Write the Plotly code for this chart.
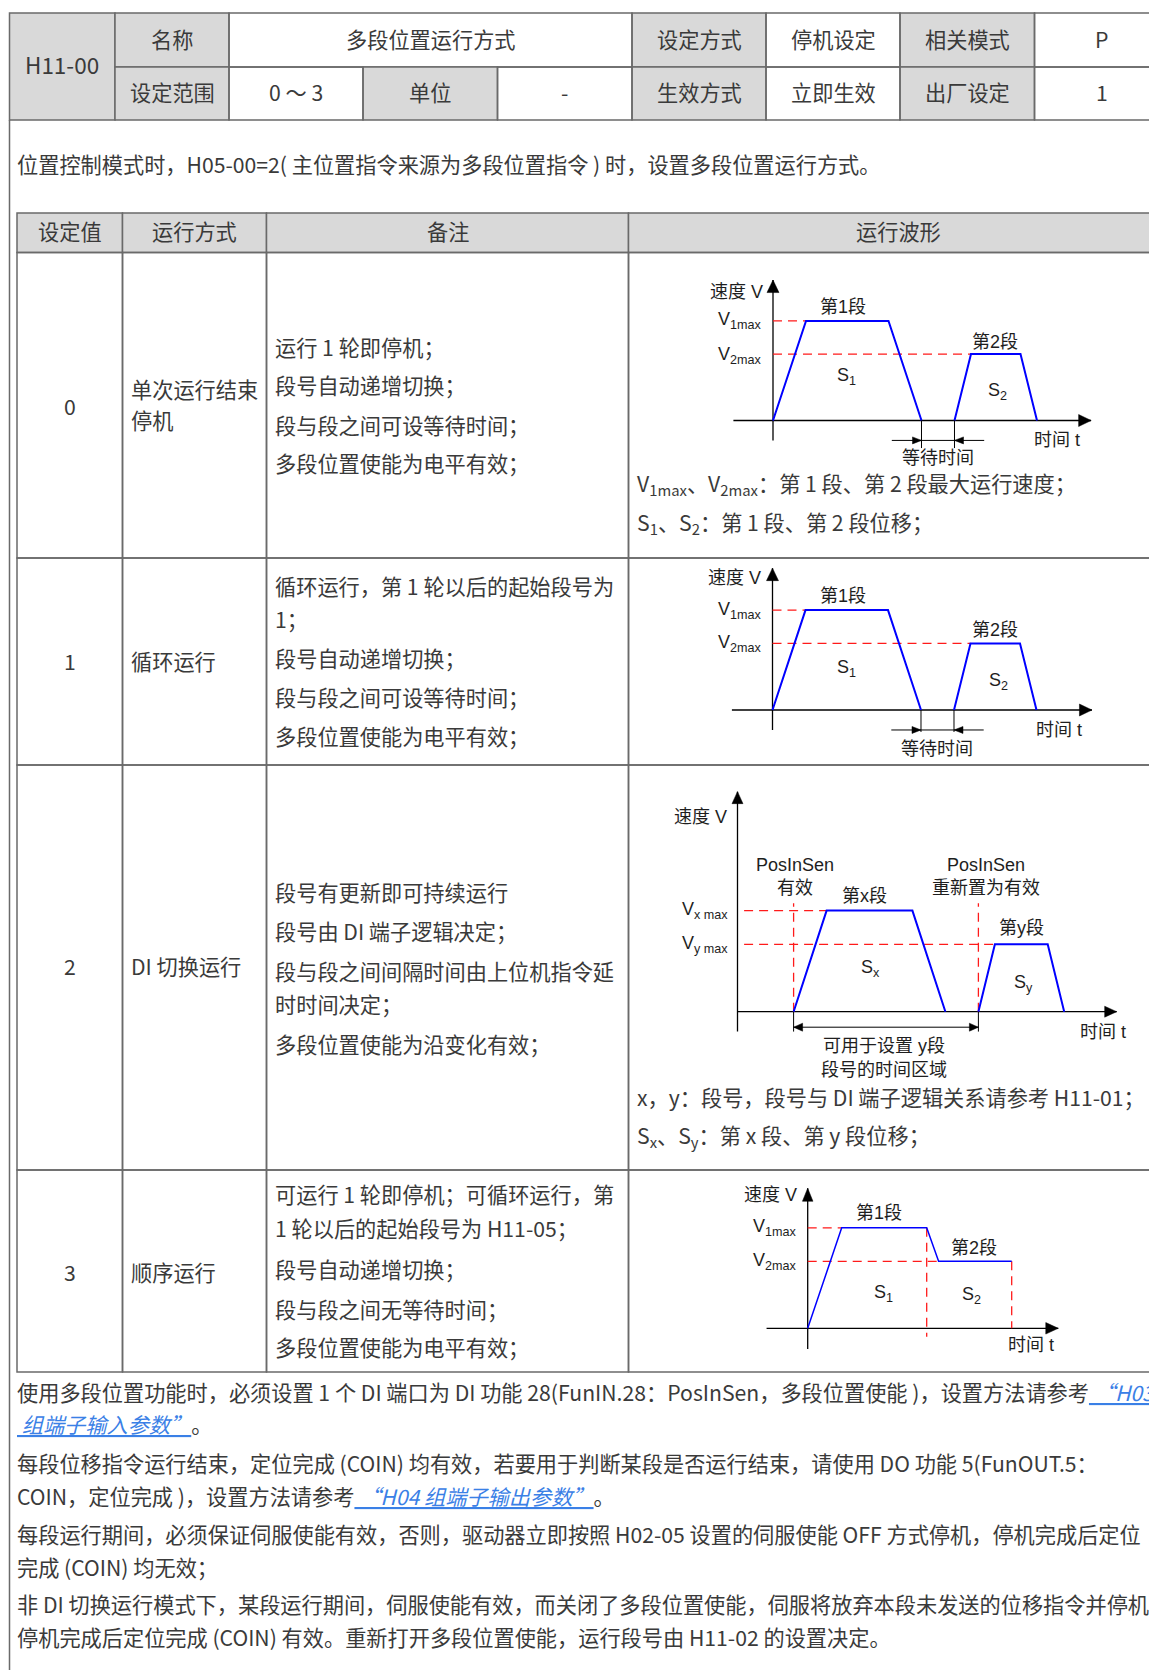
import plotly.graph_objects as go

# ======================= CONTENT (data) =======================
PARAM_CODE = "H11-00"
ROW1_LABELS = ["名称", "设定方式", "相关模式"]
ROW1_VALUES = ["多段位置运行方式", "停机设定", "P"]
ROW2_LABELS = ["设定范围", "单位", "生效方式", "出厂设定"]
ROW2_VALUES = ["0 ～ 3", "-", "立即生效", "1"]

INTRO = "位置控制模式时，H05-00=2( 主位置指令来源为多段位置指令 ) 时，设置多段位置运行方式。"

TABLE_HEADERS = ["设定值", "运行方式", "备注", "运行波形"]
SET_VALUES = ["0", "1", "2", "3"]
RUN_MODES = [["单次运行结束", "停机"], ["循环运行"], ["DI 切换运行"], ["顺序运行"]]
REMARKS = [
    ["运行 1 轮即停机；", "段号自动递增切换；", "段与段之间可设等待时间；", "多段位置使能为电平有效；"],
    ["循环运行，第 1 轮以后的起始段号为", "1；", "段号自动递增切换；", "段与段之间可设等待时间；",
     "多段位置使能为电平有效；"],
    ["段号有更新即可持续运行", "段号由 DI 端子逻辑决定；", "段与段之间间隔时间由上位机指令延", "时时间决定；",
     "多段位置使能为沿变化有效；"],
    ["可运行 1 轮即停机；可循环运行，第", "1 轮以后的起始段号为 H11-05；", "段号自动递增切换；",
     "段与段之间无等待时间；", "多段位置使能为电平有效；"],
]
WAVE_NOTES = [
    ["V<sub>1max</sub>、V<sub>2max</sub>：第 1 段、第 2 段最大运行速度；", "S<sub>1</sub>、S<sub>2</sub>：第 1 段、第 2 段位移；"],
    [],
    ["x，y：段号，段号与 DI 端子逻辑关系请参考 H11-01；", "S<sub>x</sub>、S<sub>y</sub>：第 x 段、第 y 段位移；"],
    [],
]
LINK1 = "“H03 组端子输入参数”"
LINK2 = "“H04 组端子输出参数”"
NOTES = [
    "使用多段位置功能时，必须设置 1 个 DI 端口为 DI 功能 28(FunIN.28：PosInSen，多段位置使能 )，设置方法请参考{L1a}",
    "{L1b}。",
    "每段位移指令运行结束，定位完成 (COIN) 均有效，若要用于判断某段是否运行结束，请使用 DO 功能 5(FunOUT.5：",
    "COIN，定位完成 )，设置方法请参考{L2}。",
    "每段运行期间，必须保证伺服使能有效，否则，驱动器立即按照 H02-05 设置的伺服使能 OFF 方式停机，停机完成后定位",
    "完成 (COIN) 均无效；",
    "非 DI 切换运行模式下，某段运行期间，伺服使能有效，而关闭了多段位置使能，伺服将放弃本段未发送的位移指令并停机，",
    "停机完成后定位完成 (COIN) 有效。重新打开多段位置使能，运行段号由 H11-02 的设置决定。",
]

# waveform values (time t, speed v)
A_SEG1_T = [0, 10, 35, 45]
A_SEG1_V = [0, 3, 3, 0]
A_SEG2_T = [55, 60, 75, 80]
A_SEG2_V = [0, 2, 2, 0]
A_LABELS = ["速度 V", "V<sub>1max</sub>", "V<sub>2max</sub>", "第1段", "第2段", "S<sub>1</sub>", "S<sub>2</sub>",
            "时间 t", "等待时间"]

C_SEGX_T = [17, 27, 53, 63]
C_SEGX_V = [0, 3, 3, 0]
C_SEGY_T = [73, 78, 94, 99]
C_SEGY_V = [0, 2, 2, 0]
C_LABELS = ["速度 V", "PosInSen", "有效", "PosInSen", "重新置为有效", "第x段", "V<sub>x max</sub>",
            "V<sub>y max</sub>", "第y段", "S<sub>x</sub>", "S<sub>y</sub>", "时间 t", "可用于设置 y段", "段号的时间区域"]

D_T = [0, 10, 35, 38.5, 60]
D_V = [0, 3, 3, 2, 2]
D_LABELS = ["速度 V", "V<sub>1max</sub>", "V<sub>2max</sub>", "第1段", "第2段", "S<sub>1</sub>", "S<sub>2</sub>", "时间 t"]

# ======================= LAYOUT / STYLE =======================
W, H = 1157, 1670
OFF = 8  # page body margin of the html document
FONT = "Noto Sans CJK SC, Noto Sans, sans-serif"
DFONT = "Liberation Sans, Arial, Noto Sans CJK SC, sans-serif"
TXT = "#3a3a3a"
DTXT = "#1e1e1e"
BORDER = "#6a6a6a"
GREY = "#d9d9d9"
BLUE = "#0000ff"
RED = "#ff1a1a"
LINKC = "#3a80e6"
FS = 21.2
DFS = 18

HDR_X = [9.5, 115, 229, 363, 497.5, 632, 766, 900, 1034.5, 1169]
HDR_Y = [13, 67, 120]
R1_LABEL_COLS = [1, 5, 7]
R1_VALUE_SPANS = [(2, 5), (6, 7), (8, 9)]
R2_LABEL_COLS = [1, 3, 5, 7]
R2_VALUE_COLS = [2, 4, 6, 8]

OUTER_X = 9.5
INTRO_POS = (17, 165)
TBL_X = [17, 122.5, 266.5, 628.5, 1168]
TBL_Y = [213, 252.5, 558, 765, 1170, 1372]
MODE_X = 131
REMARK_X = 275
MODE_Y = [[390, 422], [662.5], [967.5], [1273]]
REMARK_Y = [[348, 386.5, 426, 465], [587, 620, 659.5, 698, 737], [893, 932.5, 972.3, 1005, 1045],
            [1195, 1229, 1270.5, 1310, 1348.5]]
WAVE_NOTE_X = 637
WAVE_NOTE_Y = [[486, 524.5], [], [1098, 1137], []]
NOTE_X = 17
NOTE_Y = [1393.5, 1425.5, 1464, 1497, 1535, 1568, 1605.5, 1638.5]

fig = go.Figure()
shapes, annos = [], []


def px(x):
    return (x - OFF) / W


def py(y):
    return 1 - (y - OFF) / H


def rect(x0, y0, x1, y1, fill=None, lw=1.5):
    shapes.append(dict(type="rect", xref="paper", yref="paper", x0=px(x0), x1=px(x1), y0=py(y1), y1=py(y0),
                       line=dict(color=BORDER, width=lw), fillcolor=fill if fill else "rgba(0,0,0,0)",
                       layer="below"))


def vline(x, y0, y1, lw=1.5):
    shapes.append(dict(type="line", xref="paper", yref="paper", x0=px(x), x1=px(x), y0=py(y0), y1=py(y1),
                       line=dict(color=BORDER, width=lw), layer="below"))


def text(t, x, y, anchor="center", size=FS, color=TXT, family=FONT):
    # compensate for the annotation box padding so glyph edges land where measured
    if anchor == "left":
        x -= 2.5
    elif anchor == "right":
        x += 2.5
    if family == FONT:
        y -= 2
    annos.append(dict(text=t, x=px(x), y=py(y), xref="paper", yref="paper", showarrow=False, xanchor=anchor,
                      yanchor="middle", font=dict(family=family, size=size, color=color)))


# ---------- header parameter table ----------
rect(HDR_X[0], HDR_Y[0], HDR_X[1], HDR_Y[2], GREY)
text(PARAM_CODE, (HDR_X[0] + HDR_X[1]) / 2, (HDR_Y[0] + HDR_Y[2]) / 2, size=22.5)
for lab, c in zip(ROW1_LABELS, R1_LABEL_COLS):
    rect(HDR_X[c], HDR_Y[0], HDR_X[c + 1], HDR_Y[1], GREY)
    text(lab, (HDR_X[c] + HDR_X[c + 1]) / 2, (HDR_Y[0] + HDR_Y[1]) / 2)
for val, (c0, c1) in zip(ROW1_VALUES, R1_VALUE_SPANS):
    rect(HDR_X[c0], HDR_Y[0], HDR_X[c1], HDR_Y[1])
    text(val, (HDR_X[c0] + HDR_X[c1]) / 2, (HDR_Y[0] + HDR_Y[1]) / 2)
for lab, c in zip(ROW2_LABELS, R2_LABEL_COLS):
    rect(HDR_X[c], HDR_Y[1], HDR_X[c + 1], HDR_Y[2], GREY)
    text(lab, (HDR_X[c] + HDR_X[c + 1]) / 2, (HDR_Y[1] + HDR_Y[2]) / 2)
for val, c in zip(ROW2_VALUES, R2_VALUE_COLS):
    rect(HDR_X[c], HDR_Y[1], HDR_X[c + 1], HDR_Y[2])
    text(val, (HDR_X[c] + HDR_X[c + 1]) / 2, (HDR_Y[1] + HDR_Y[2]) / 2)

# outer frame left edge
vline(OUTER_X, HDR_Y[2], H + 20)
text(INTRO, INTRO_POS[0], INTRO_POS[1], anchor="left")

# ---------- main table ----------
for i, hd in enumerate(TABLE_HEADERS):
    rect(TBL_X[i], TBL_Y[0], TBL_X[i + 1], TBL_Y[1], GREY)
    text(hd, (TBL_X[i] + TBL_X[i + 1]) / 2, (TBL_Y[0] + TBL_Y[1]) / 2)
for r in range(4):
    y0, y1 = TBL_Y[r + 1], TBL_Y[r + 2]
    for i in range(4):
        rect(TBL_X[i], y0, TBL_X[i + 1], y1)
    text(SET_VALUES[r], (TBL_X[0] + TBL_X[1]) / 2, MODE_Y[r][0] if len(MODE_Y[r]) == 1 else (y0 + y1) / 2 + 2)
    for line_txt, yy in zip(RUN_MODES[r], MODE_Y[r]):
        text(line_txt, MODE_X, yy, anchor="left")
    for line_txt, yy in zip(REMARKS[r], REMARK_Y[r]):
        text(line_txt, REMARK_X, yy, anchor="left")
    for line_txt, yy in zip(WAVE_NOTES[r], WAVE_NOTE_Y[r]):
        text(line_txt, WAVE_NOTE_X, yy, anchor="left")


# ---------- notes under table ----------
def link(s):
    return f"<span style='color:{LINKC}'><i><u>{s}</u></i></span>"


fills = {"L1a": link(" " + LINK1[:4]), "L1b": link(LINK1[4:]), "L2": link(" " + LINK2)}
for line_txt, yy in zip(NOTES, NOTE_Y):
    text(line_txt.format(**fills), NOTE_X, yy, anchor="left")

# ---------- waveform diagrams ----------
layout_axes = {}
traces = []


def make_axes(k, ox, oy, sx, sy, trange, vrange):
    xd = [px(ox + trange[0] * sx), px(ox + trange[1] * sx)]
    yd = [py(oy - vrange[0] * sy), py(oy - vrange[1] * sy)]
    layout_axes[f"xaxis{k}"] = dict(domain=xd, range=list(trange), anchor=f"y{k}", visible=False, fixedrange=True)
    layout_axes[f"yaxis{k}"] = dict(domain=yd, range=list(vrange), anchor=f"x{k}", visible=False, fixedrange=True)
    return (f"x{k}", f"y{k}", sx, sy)


def line(ax, t, v, color="black", width=1.3, dash=None):
    traces.append(go.Scatter(x=t, y=v, xaxis=ax[0], yaxis=ax[1], mode="lines", hoverinfo="skip",
                             line=dict(color=color, width=width, dash=dash)))


def head(ax, t, v, direction, length=12.5, width=12.0):
    """filled arrow head whose tip sits on data point (t, v); size in pixels"""
    sx, sy = ax[2], ax[3]
    if direction in ("r", "l"):
        s = 1 if direction == "r" else -1
        bt = t - s * length / sx
        xs, ys = [t, bt, bt, t], [v, v + width / 2 / sy, v - width / 2 / sy, v]
    else:
        s = 1 if direction == "u" else -1
        bv = v - s * length / sy
        xs, ys = [t, t - width / 2 / sx, t + width / 2 / sx, t], [v, bv, bv, v]
    traces.append(go.Scatter(x=xs, y=ys, xaxis=ax[0], yaxis=ax[1], mode="lines", fill="toself",
                             fillcolor="black", line=dict(color="black", width=0.5), hoverinfo="skip"))


def dlabel(t, x, y, anchor="center"):
    text(t, x, y, anchor=anchor, size=DFS, color=DTXT, family=DFONT)


DASH = "9px,6px"

# diagrams for rows 0 and 1 (same waveform)
A_SPECS = [
    dict(k=2, ox=773, oy=420.5, sx=3.3, sy=33.2, x_ax=[-12, 96.4], y_ax=[-0.6, 4.23], wait_v=-0.6, tick_v=-0.83,
         lab=[(762, 292, "right"), (761, 321, "right"), (761, 355, "right"), (842.6, 306.5, "center"),
              (995, 341.5, "center"), (846, 376.5, "center"), (997, 391.5, "center"), (1034, 440, "left"),
              (937.6, 458, "center")]),
    dict(k=3, ox=772.5, oy=710, sx=3.3, sy=33.3, x_ax=[-12.3, 96.8], y_ax=[-0.6, 4.26], wait_v=-0.6, tick_v=-0.66,
         lab=[(760, 578, "right"), (761, 610, "right"), (761, 643.5, "right"), (842.6, 595.7, "center"),
              (995, 630, "center"), (846, 668, "center"), (998, 681.7, "center"), (1036, 730, "left"),
              (937, 749.3, "center")]),
]
for s in A_SPECS:
    ax = make_axes(s["k"], s["ox"], s["oy"], s["sx"], s["sy"], (-14, 101), (-1.0, 4.6))
    line(ax, s["x_ax"], [0, 0])
    line(ax, [0, 0], s["y_ax"])
    head(ax, s["x_ax"][1], 0, "r")
    head(ax, 0, s["y_ax"][1], "u")
    line(ax, [0, A_SEG1_T[1]], [A_SEG1_V[1]] * 2, RED, 1.3, DASH)
    line(ax, [0, A_SEG2_T[1]], [A_SEG2_V[1]] * 2, RED, 1.3, DASH)
    line(ax, A_SEG1_T, A_SEG1_V, BLUE, 2)
    line(ax, A_SEG2_T, A_SEG2_V, BLUE, 2)
    # waiting time marker
    line(ax, [A_SEG1_T[-1], A_SEG1_T[-1]], [0, s["tick_v"]], "black", 1)
    line(ax, [A_SEG2_T[0], A_SEG2_T[0]], [0, s["tick_v"]], "black", 1)
    line(ax, [A_SEG1_T[-1] - 9, A_SEG2_T[0] + 9], [s["wait_v"]] * 2, "black", 1)
    head(ax, A_SEG1_T[-1], s["wait_v"], "r", 9, 7)
    head(ax, A_SEG2_T[0], s["wait_v"], "l", 9, 7)
    for t, (x, y, a) in zip(A_LABELS, s["lab"]):
        dlabel(t, x, y, a)

# diagram for row 2 (DI switching)
ax = make_axes(4, 737.5, 1011.7, 3.3, 33.7, (-14, 118), (-1.0, 7.0))
line(ax, [0, 114.9], [0, 0])
line(ax, [0, 0], [-0.59, 6.53])
head(ax, 114.9, 0, "r", 12, 11)
head(ax, 0, 6.53, "u", 12, 11)
line(ax, [2, C_SEGX_T[1]], [C_SEGX_V[1]] * 2, RED, 1.3, DASH)
line(ax, [2, C_SEGY_T[1]], [C_SEGY_V[1]] * 2, RED, 1.3, DASH)
line(ax, [C_SEGX_T[0]] * 2, [0, 3.22], RED, 1.3, DASH)
line(ax, [C_SEGY_T[0]] * 2, [0, 3.22], RED, 1.3, DASH)
line(ax, C_SEGX_T, C_SEGX_V, BLUE, 2)
line(ax, C_SEGY_T, C_SEGY_V, BLUE, 2)
line(ax, [C_SEGX_T[0]] * 2, [0, -0.59], "black", 1)
line(ax, [C_SEGY_T[0]] * 2, [0, -0.59], "black", 1)
line(ax, [C_SEGX_T[0], C_SEGY_T[0]], [-0.46, -0.46], "black", 1)
head(ax, C_SEGX_T[0], -0.46, "l", 9, 8)
head(ax, C_SEGY_T[0], -0.46, "r", 9, 8)
C_POS = [(726, 816.7, "right"), (794.7, 865, "center"), (794.7, 888.3, "center"), (986.4, 865, "center"),
         (986.4, 888.3, "center"), (864.9, 896, "center"), (727, 910.7, "right"), (727, 944, "right"),
         (1021.4, 928.3, "center"), (870, 968.3, "center"), (1023.4, 983.3, "center"), (1080.6, 1031.7, "left"),
         (883.7, 1046, "center"), (883.7, 1070, "center")]
for t, (x, y, a) in zip(C_LABELS, C_POS):
    dlabel(t, x, y, a)

# diagram for row 3 (sequential)
ax = make_axes(5, 807.7, 1328.3, 3.4, 33.5, (-14, 76), (-1.0, 4.6))
line(ax, [-12.1, 73.7], [0, 0])
line(ax, [0, 0], [-0.62, 4.18])
head(ax, 73.7, 0, "r", 12.5, 11.5)
head(ax, 0, 4.18, "u", 13, 10.5)
line(ax, [0, D_T[1]], [D_V[1]] * 2, RED, 1.3, DASH)
line(ax, [0, D_T[3]], [D_V[3]] * 2, RED, 1.3, DASH)
line(ax, [D_T[2]] * 2, [D_V[2], -0.25], RED, 1.3, DASH)
line(ax, [D_T[4]] * 2, [D_V[4], 0], RED, 1.3, DASH)
line(ax, D_T, D_V, BLUE, 1.5)
D_POS = [(796.4, 1195, "right"), (796.4, 1227.7, "right"), (796.4, 1261, "right"), (878.6, 1213.3, "center"),
         (973.8, 1248.3, "center"), (883.7, 1293.3, "center"), (971, 1295, "center"), (1008.7, 1345, "left")]
for t, (x, y, a) in zip(D_LABELS, D_POS):
    dlabel(t, x, y, a)

for tr in traces:
    fig.add_trace(tr)

fig.update_layout(width=W, height=H, margin=dict(l=0, r=0, t=0, b=0, pad=0), paper_bgcolor="white",
                  plot_bgcolor="rgba(0,0,0,0)", showlegend=False, shapes=shapes, annotations=annos,
                  xaxis=dict(visible=False, domain=[0, 0.001]), yaxis=dict(visible=False, domain=[0, 0.001]),
                  **layout_axes)
fig.write_html("out.html")
